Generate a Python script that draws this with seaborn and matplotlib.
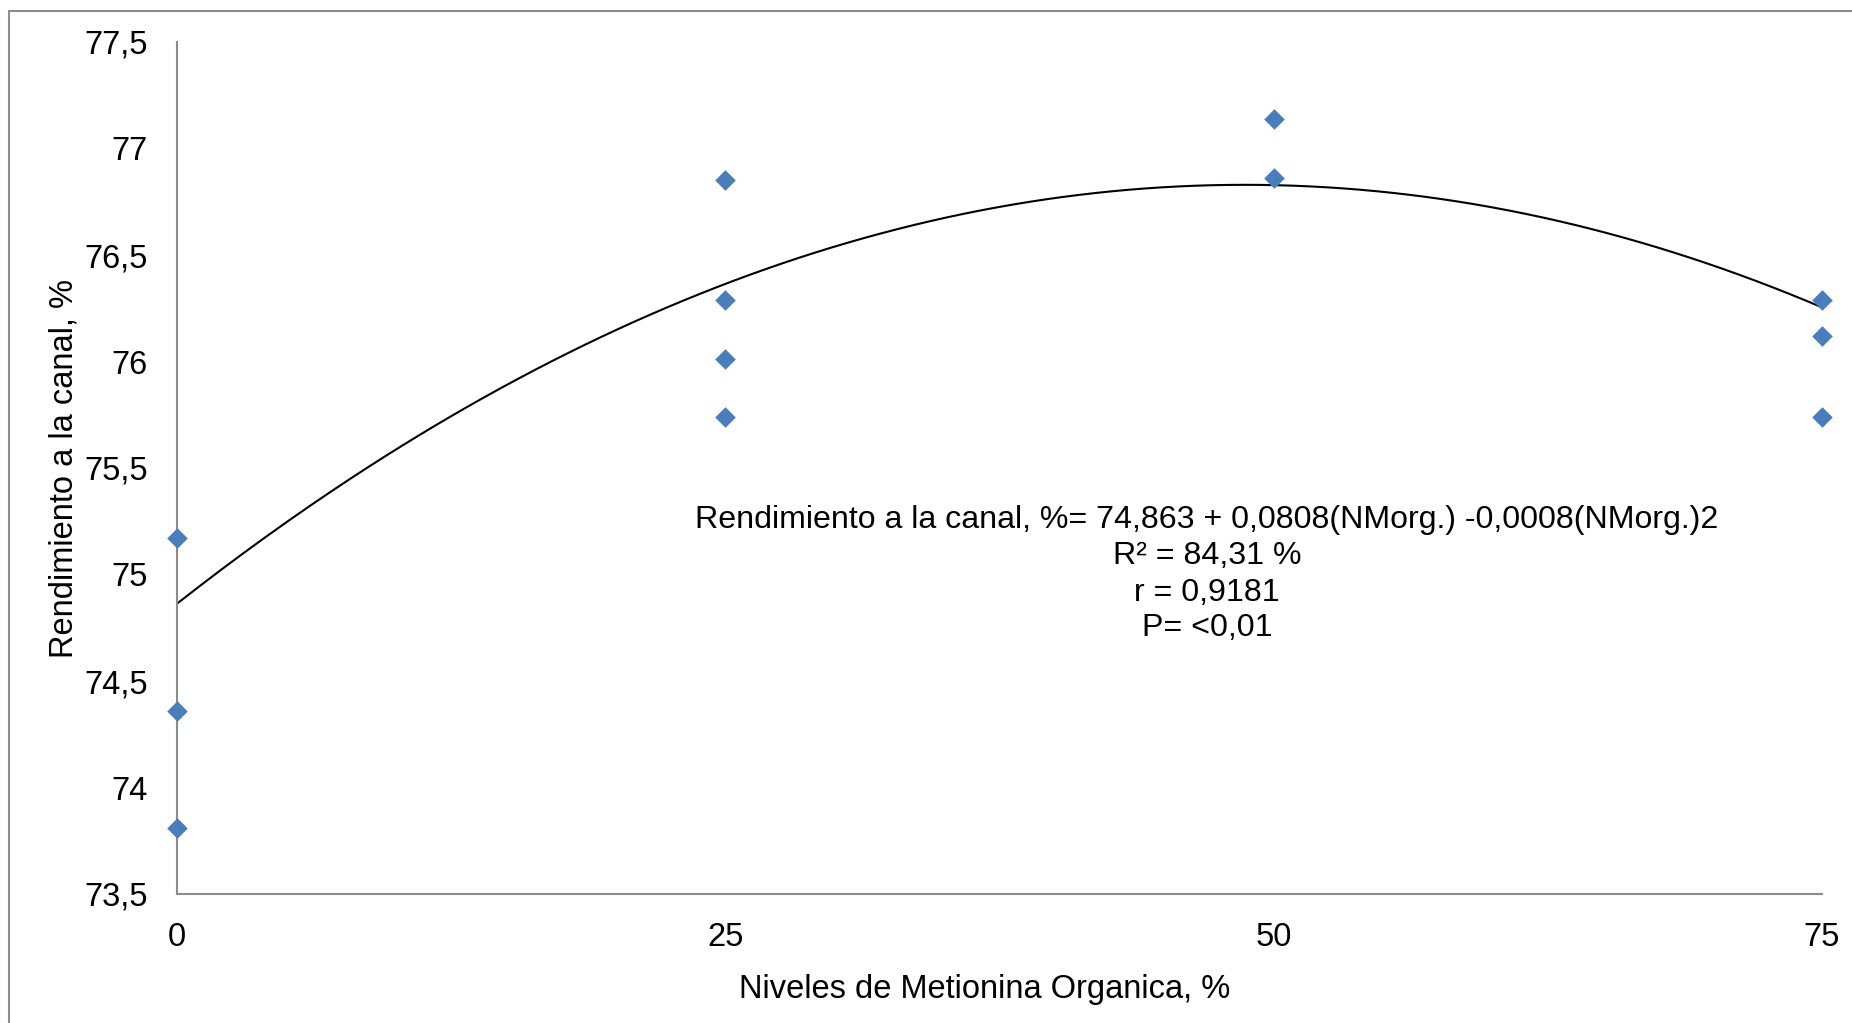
import numpy as np
import pandas as pd
import matplotlib
matplotlib.use("Agg")
import matplotlib.pyplot as plt
import matplotlib.patches as mpatches
import seaborn as sns

# ---- data ----
niveles = [0, 0, 0, 25, 25, 25, 25, 50, 50, 75, 75, 75]
rendimiento = [75.17, 74.36, 73.81, 76.85, 76.29, 76.01, 75.74, 77.14, 76.86, 76.29, 76.12, 75.74]
# fitted quadratic trend (intercept, linear, quadratic) as drawn
coef = [74.863, 0.0808, -0.00083]
y_ticks = [73.5, 74, 74.5, 75, 75.5, 76, 76.5, 77, 77.5]
y_tick_labels = ["73,5", "74", "74,5", "75", "75,5", "76", "76,5", "77", "77,5"]
x_ticks = [0, 25, 50, 75]
x_tick_labels = ["0", "25", "50", "75"]
eq_lines = ["Rendimiento a la canal, %= 74,863 + 0,0808(NMorg.) -0,0008(NMorg.)2",
            "R² = 84,31 %", "r = 0,9181", "P= <0,01"]
x_label = "Niveles de Metionina Organica, %"
y_label = "Rendimiento a la canal, %"

sns.set_theme(style="white")
plt.rcParams['font.family'] = ['Liberation Sans', 'DejaVu Sans']

W, H = 1852, 1023
fig = plt.figure(figsize=(W / 100, H / 100), dpi=100)
ax = fig.add_axes([177 / W, 1 - 894 / H, (1822 - 177) / W, (894 - 42) / H])

df = pd.DataFrame({"x": niveles, "y": rendimiento})
xs = np.linspace(0, 75, 300)
fit = pd.DataFrame({"x": xs, "y": coef[0] + coef[1] * xs + coef[2] * xs ** 2})
sns.lineplot(data=fit, x="x", y="y", ax=ax, color="black", linewidth=1.5, zorder=2)
sns.scatterplot(data=df, x="x", y="y", ax=ax, marker="D", s=110, color="#4A7EBB",
                linewidth=0, zorder=3, clip_on=False)

ax.set_xlim(0, 75)
ax.set_ylim(73.5, 77.5)
ax.set_xticks(x_ticks)
ax.set_xticklabels(x_tick_labels)
ax.set_yticks(y_ticks)
ax.set_yticklabels(y_tick_labels)
ax.tick_params(axis="both", length=0, labelsize=23.5, colors="black")
ax.tick_params(axis="y", pad=21)
ax.tick_params(axis="x", pad=20)

for s in ["top", "right"]:
    ax.spines[s].set_visible(False)
for s in ["left", "bottom"]:
    ax.spines[s].set_color("#8C8C8C")
    ax.spines[s].set_linewidth(1.5)

ax.set_xlabel(x_label, fontsize=23.5, color="black")
ax.set_ylabel(y_label, fontsize=23.5, color="black")
ax.xaxis.set_label_coords((985 - 177) / (1822 - 177), -(974 - 894) / (894 - 42))
ax.yaxis.set_label_coords(-(177 - 80) / (1822 - 177), 0.5)

eq_y = [520, 556, 593, 628]
for line, py in zip(eq_lines, eq_y):
    fig.text(1207 / W, 1 - py / H, line, ha="center", va="center", fontsize=23.1, color="black")

border = mpatches.Rectangle((8.5 / W, -0.2), 2, 1.2 - 10.5 / H, transform=fig.transFigure,
                            fill=False, edgecolor="#8C8C8C", linewidth=1.5)
fig.patches.append(border)

fig.savefig("out.png", dpi=100, facecolor="white")
